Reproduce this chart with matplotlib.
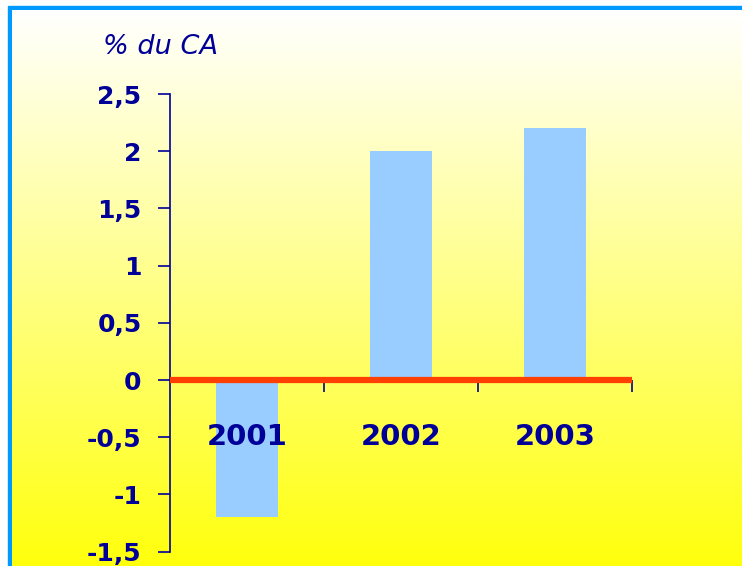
import numpy as np
import matplotlib.pyplot as plt
from matplotlib.patches import Rectangle
from matplotlib.ticker import FixedLocator, FuncFormatter

years = ["2001", "2002", "2003"]
values = [-1.2, 2.0, 2.2]
yticks = [-1.5, -1, -0.5, 0, 0.5, 1, 1.5, 2, 2.5]

navy = "#000099"
W, H = 742, 566
fig = plt.figure(figsize=(W / 100, H / 100), dpi=100)

# background: white strip, blue frame, white->yellow gradient
bg = fig.add_axes([0, 0, 1, 1], zorder=-10)
bg.axis("off")
bg.add_patch(Rectangle((0, 0), W, H, color="white", zorder=0))
bg.add_patch(Rectangle((8, 6), W, H, color="#0099ff", zorder=1))
grad = np.linspace(0, 1, 256).reshape(-1, 1)
top = np.array([1.0, 1.0, 1.0])
bot = np.array([1.0, 1.0, 0.05])
img = top + (bot - top) * grad[..., None]
bg.imshow(img, extent=(12, W, H, 10), aspect="auto", zorder=2)
bg.set_xlim(0, W)
bg.set_ylim(H, 0)

ax = fig.add_axes([170 / W, 1 - 551.6 / H, (632 - 170) / W, (551.6 - 94) / H])
ax.patch.set_alpha(0)
ax.set_axisbelow(False)
x = np.arange(len(years))
ax.bar(x, values, width=0.4, color="#99ccff", zorder=1)
ax.set_xlim(-0.5, 2.5)
ax.set_ylim(-1.5, 2.5)

for s in ["top", "right"]:
    ax.spines[s].set_visible(False)
ax.spines["left"].set_color(navy)
ax.spines["left"].set_linewidth(1.2)
ax.spines["bottom"].set_visible(False)
ax.axhline(0, color="#ff4000", lw=4.5, zorder=3, solid_capstyle="butt")

ax.set_yticks(yticks)
ax.yaxis.set_major_formatter(FuncFormatter(lambda v, p: f"{v:g}".replace(".", ",")))
ax.tick_params(axis="y", length=8.5, width=1.2, color=navy, labelcolor=navy,
               labelsize=18, pad=12)
for lb in ax.get_yticklabels():
    lb.set_fontweight("bold")

# category boundary ticks hanging from the zero line
ax.xaxis.set_major_locator(FixedLocator([0.5, 1.5, 2.5]))
ax.xaxis.set_major_formatter(FuncFormatter(lambda v, p: ""))
ax.tick_params(axis="x", which="major", direction="out", length=8.5, width=1.2, color=navy)
ax.spines["bottom"].set_position(("data", 0))
ax.set_xticks(x, minor=True)
ax.set_xticklabels(years, minor=True)
ax.tick_params(axis="x", which="minor", length=0, labelcolor=navy, labelsize=21, pad=31)
for lb in ax.get_xticklabels(minor=True):
    lb.set_fontweight("bold")

fig.text(103 / W, 1 - 47 / H, "% du CA", color=navy, fontsize=19.5, style="italic",
         ha="left", va="center")

fig.savefig("out.png", dpi=100)
